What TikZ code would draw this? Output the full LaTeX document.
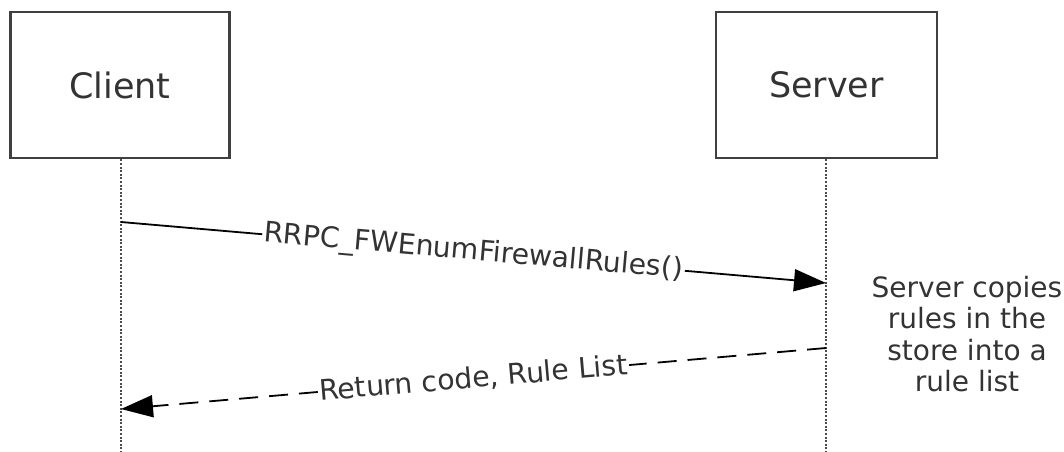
\documentclass[tikz,border=0pt]{standalone}
\usepackage{fontspec}
\setmainfont{DejaVu Sans}
\usetikzlibrary{arrows.meta}
\begin{document}
\begin{tikzpicture}[x=1pt,y=-1pt,
  actor/.style={draw=black!75,line width=2.6pt,fill=white,minimum width=#1,minimum height=146pt,inner sep=0pt,font=\fontsize{35}{40}\selectfont,text=black!80},
  lifeline/.style={draw=black!70,line width=2.2pt,dash pattern=on 2pt off 1.6pt},
  msg/.style={draw=black,line width=1.8pt,-{Triangle[length=32pt,width=22pt]}},
  reply/.style={msg,dash pattern=on 19pt off 11pt},
  lbl/.style={fill=white,inner sep=1.5pt,sloped,font=\fontsize{28.3}{31}\selectfont,text=black!80},
  note/.style={align=center,font=\fontsize{28}{31.5}\selectfont,text=black!80}]
\useasboundingbox (0,0) rectangle (1064,451);
\node[actor=219pt] (client) at (120,85) {Client};
\node[actor=221pt] (server) at (826.5,85) {Server};
\coordinate (cend) at (121,451);
\coordinate (send) at (826,451);
\draw[lifeline] (client.south -| cend) -- (cend);
\draw[lifeline] (server.south -| send) -- (send);
\coordinate (c1) at (121,222);
\coordinate (s1) at (826,283);
\coordinate (s2) at (826,348);
\coordinate (c2) at (121,409);
\draw[msg] (c1) -- node[lbl]{RRPC\_FWEnumFirewallRules()} (s1);
\draw[reply] (s2) -- node[lbl]{Return code, Rule List} (c2);
\node[note] (copytext) at (967,334) {Server copies\\rules in the\\store into a\\rule list};
\end{tikzpicture}
\end{document}
